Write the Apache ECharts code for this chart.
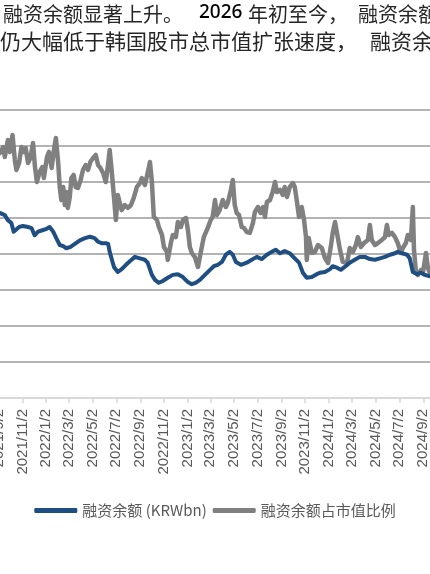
<!DOCTYPE html>
<html>
<head>
<meta charset="utf-8">
<script src="https://cdn.jsdelivr.net/npm/echarts@6/dist/echarts.min.js"></script>
<style>
  html, body { margin: 0; padding: 0; background: #fff; }
  #chart { width: 430px; height: 574px; }
</style>
</head>
<body>
<div id="chart"></div>
<script>
// x axis tick labels (every two months)
var tickLabels = ['2021/9/2', '2021/11/2', '2022/1/2', '2022/3/2', '2022/5/2', '2022/7/2', '2022/9/2',
  '2022/11/2', '2023/1/2', '2023/3/2', '2023/5/2', '2023/7/2', '2023/9/2', '2023/11/2',
  '2024/1/2', '2024/3/2', '2024/5/2', '2024/7/2', '2024/9/2', '2024/11/2'];

// 融资余额 (KRWbn)
var marginDates = ['2021-09-04', '2021-09-17', '2021-09-25', '2021-10-04', '2021-10-10', '2021-10-15', '2021-10-24',
  '2021-11-03', '2021-11-16', '2021-11-25', '2021-12-03', '2021-12-12', '2021-12-23', '2022-01-03', '2022-01-11',
  '2022-01-20', '2022-01-28', '2022-02-06', '2022-02-15', '2022-02-23', '2022-03-06', '2022-03-17', '2022-03-30',
  '2022-04-12', '2022-04-25', '2022-05-07', '2022-05-16', '2022-05-25', '2022-06-05', '2022-06-11', '2022-06-15',
  '2022-06-20', '2022-06-26', '2022-07-06', '2022-07-16', '2022-07-27', '2022-08-06', '2022-08-19', '2022-09-01',
  '2022-09-14', '2022-09-21', '2022-10-02', '2022-10-10', '2022-10-20', '2022-10-30', '2022-11-12', '2022-11-25',
  '2022-12-08', '2022-12-21', '2023-01-03', '2023-01-13', '2023-01-23', '2023-02-03', '2023-02-16', '2023-03-01',
  '2023-03-11', '2023-03-21', '2023-04-01', '2023-04-11', '2023-04-21', '2023-04-29', '2023-05-07', '2023-05-20',
  '2023-06-04', '2023-06-17', '2023-06-30', '2023-07-13', '2023-07-26', '2023-08-08', '2023-08-18', '2023-08-29',
  '2023-09-10', '2023-09-23', '2023-10-06', '2023-10-17', '2023-10-27', '2023-11-06', '2023-11-19', '2023-12-02',
  '2023-12-10', '2023-12-23', '2024-01-05', '2024-01-12', '2024-01-23', '2024-02-02', '2024-02-12', '2024-02-25',
  '2024-03-09', '2024-03-22', '2024-04-04', '2024-04-17', '2024-04-30', '2024-05-13', '2024-05-26', '2024-06-08',
  '2024-06-21', '2024-06-28', '2024-07-09', '2024-07-22', '2024-07-29', '2024-08-06', '2024-08-17', '2024-08-27',
  '2024-09-06', '2024-09-19'];
var marginValues = [25700, 25400, 24700, 24300, 23100, 22900, 23750,
  23900, 23750, 23600, 22600, 23100, 23300, 23500, 23750,
  23100, 22200, 21250, 21100, 20800, 21000, 21400, 21900,
  22200, 22400, 22200, 21700, 21500, 21500, 21400, 20300,
  20100, 18200, 17500, 17900, 18500, 19000, 19600, 19400,
  19200, 18800, 17100, 16400, 16000, 16250, 16700, 17100,
  17200, 16800, 16100, 15800, 16000, 16400, 17100, 17800,
  18300, 18500, 18900, 19900, 20300, 19900, 18900, 18500,
  18800, 19200, 19600, 19300, 19900, 20300, 20600, 20100,
  20400, 20100, 19400, 18800, 17400, 16700, 16800, 17200,
  17400, 17500, 17900, 18300, 18100, 17800, 18200, 18800,
  19200, 19600, 19600, 19300, 19200, 19400, 19600, 19900,
  20100, 20300, 20100, 19900, 19400, 17500, 17200, 17400,
  17100, 16900];

// 融资余额占市值比例 (%)
var ratioDates = ['2021-09-04', '2021-09-13', '2021-09-17', '2021-09-25', '2021-09-30', '2021-10-07', '2021-10-13',
  '2021-10-17', '2021-10-24', '2021-10-30', '2021-11-05', '2021-11-10', '2021-11-16', '2021-11-22', '2021-11-29',
  '2021-12-04', '2021-12-09', '2021-12-16', '2021-12-23', '2021-12-27', '2022-01-04', '2022-01-09', '2022-01-16',
  '2022-01-22', '2022-01-27', '2022-02-02', '2022-02-06', '2022-02-10', '2022-02-15', '2022-02-19', '2022-02-23',
  '2022-02-27', '2022-03-04', '2022-03-08', '2022-03-14', '2022-03-19', '2022-03-25', '2022-04-01', '2022-04-07',
  '2022-04-14', '2022-04-20', '2022-04-26', '2022-05-03', '2022-05-10', '2022-05-16', '2022-05-22', '2022-05-29',
  '2022-06-05', '2022-06-10', '2022-06-15', '2022-06-20', '2022-06-26', '2022-07-01', '2022-07-06', '2022-07-11',
  '2022-07-16', '2022-07-24', '2022-08-01', '2022-08-09', '2022-08-16', '2022-08-24', '2022-09-01', '2022-09-06',
  '2022-09-14', '2022-09-21', '2022-09-27', '2022-10-02', '2022-10-07', '2022-10-15', '2022-10-20', '2022-10-28',
  '2022-11-02', '2022-11-10', '2022-11-12', '2022-11-20', '2022-11-25', '2022-12-03', '2022-12-08', '2022-12-16',
  '2022-12-21', '2022-12-29', '2023-01-03', '2023-01-08', '2023-01-13', '2023-01-21', '2023-01-29', '2023-02-05',
  '2023-02-13', '2023-02-23', '2023-03-03', '2023-03-08', '2023-03-14', '2023-03-19', '2023-03-26', '2023-04-03',
  '2023-04-11', '2023-04-16', '2023-04-24', '2023-04-29', '2023-05-04', '2023-05-09', '2023-05-15', '2023-05-22',
  '2023-05-28', '2023-06-04', '2023-06-12', '2023-06-20', '2023-06-25', '2023-07-03', '2023-07-10', '2023-07-16',
  '2023-07-21', '2023-07-26', '2023-08-03', '2023-08-10', '2023-08-16', '2023-08-21', '2023-08-29', '2023-09-05',
  '2023-09-10', '2023-09-16', '2023-09-23', '2023-10-01', '2023-10-06', '2023-10-11', '2023-10-17', '2023-10-24',
  '2023-10-30', '2023-11-04', '2023-11-06', '2023-11-11', '2023-11-19', '2023-11-27', '2023-12-05', '2023-12-15',
  '2023-12-23', '2023-12-31', '2024-01-07', '2024-01-12', '2024-01-18', '2024-01-25', '2024-01-31', '2024-02-07',
  '2024-02-18', '2024-02-25', '2024-03-04', '2024-03-12', '2024-03-17', '2024-03-25', '2024-04-02', '2024-04-12',
  '2024-04-17', '2024-04-22', '2024-04-30', '2024-05-08', '2024-05-18', '2024-05-26', '2024-05-31', '2024-06-05',
  '2024-06-13', '2024-06-21', '2024-06-28', '2024-07-06', '2024-07-11', '2024-07-19', '2024-07-24', '2024-08-01',
  '2024-08-06', '2024-08-09', '2024-08-14', '2024-08-19', '2024-08-27', '2024-09-01', '2024-09-09', '2024-09-14',
  '2024-09-19'];
var ratioValues = [1.361, 1.394, 1.339, 1.433, 1.367, 1.461, 1.322,
  1.267, 1.306, 1.394, 1.367, 1.389, 1.306, 1.333, 1.417,
  1.283, 1.200, 1.256, 1.283, 1.222, 1.339, 1.367, 1.278,
  1.378, 1.444, 1.306, 1.172, 1.100, 1.172, 1.072, 1.144,
  1.056, 1.117, 1.222, 1.239, 1.172, 1.167, 1.211, 1.267,
  1.294, 1.267, 1.311, 1.333, 1.350, 1.294, 1.278, 1.250,
  1.200, 1.283, 1.378, 1.267, 1.117, 0.989, 1.128, 1.083,
  1.044, 1.072, 1.056, 1.072, 1.111, 1.172, 1.194, 1.222,
  1.183, 1.250, 1.311, 1.200, 1.006, 0.989, 0.950, 0.906,
  0.839, 0.811, 0.767, 0.861, 0.906, 0.894, 0.978, 0.950,
  0.989, 1.000, 0.933, 0.839, 0.806, 0.783, 0.728, 0.806,
  0.894, 0.944, 0.989, 1.006, 1.100, 1.017, 1.044, 1.100,
  1.061, 1.083, 1.156, 1.211, 1.072, 1.028, 1.017, 0.950,
  0.944, 0.922, 0.917, 0.972, 1.033, 1.061, 1.028, 1.061,
  1.006, 1.089, 1.100, 1.144, 1.200, 1.144, 1.156, 1.128,
  1.172, 1.117, 1.172, 1.194, 1.172, 1.100, 1.006, 1.061,
  0.989, 0.894, 0.767, 0.889, 0.806, 0.811, 0.850, 0.833,
  0.778, 0.750, 0.839, 0.917, 0.978, 0.894, 0.822, 0.756,
  0.750, 0.833, 0.811, 0.850, 0.894, 0.839, 0.861, 0.878,
  0.961, 0.878, 0.850, 0.861, 0.878, 0.894, 0.961, 0.906,
  0.917, 0.894, 0.861, 0.806, 0.833, 0.861, 0.906, 0.878,
  1.061, 0.822, 0.700, 0.683, 0.711, 0.694, 0.806, 0.722,
  0.694];

var seriesNames = ['融资余额 (KRWbn)', '融资余额占市值比例'];

function toTime(s) { return +echarts.time.parse(s); }

function zip(dates, values) {
  return dates.map(function (d, i) { return [toTime(d), values[i]]; });
}

var tickValues = tickLabels.map(toTime);

var chart = echarts.init(document.getElementById('chart'), null, { renderer: 'canvas' });

chart.setOption({
  animation: false,
  backgroundColor: '#fff',
  graphic: [
    { type: 'text', left: 3, top: 4, style: { text: '融资余额显著上升。', fontSize: 20, fill: '#262626', fontFamily: 'Noto Sans CJK SC' } },
    { type: 'text', left: 199, top: 3, style: { text: '2026', fontSize: 19, fill: '#000', fontFamily: 'Noto Sans', fontWeight: 500 } },
    { type: 'text', left: 248, top: 4, style: { text: '年初至今，', fontSize: 20, fill: '#262626', fontFamily: 'Noto Sans CJK SC' } },
    { type: 'text', left: 358, top: 4, style: { text: '融资余额', fontSize: 20, fill: '#262626', fontFamily: 'Noto Sans CJK SC' } },
    { type: 'text', left: 0, top: 31, style: { text: '仍大幅低于韩国股市总市值扩张速度，', fontSize: 21, fill: '#262626', fontFamily: 'Noto Sans CJK SC' } },
    { type: 'text', left: 370, top: 31, style: { text: '融资余', fontSize: 21, fill: '#262626', fontFamily: 'Noto Sans CJK SC' } }
  ],
  legend: {
    top: 498,
    left: 'center',
    itemWidth: 43,
    itemHeight: 5,
    itemGap: 6,
    icon: 'roundRect',
    textStyle: { fontSize: 15, color: '#595959', fontFamily: 'Noto Sans CJK SC' },
    data: seriesNames
  },
  grid: {
    left: -20,
    right: -20,
    top: 110,
    bottom: 176,
    outerBoundsMode: 'none'
  },
  xAxis: {
    type: 'value',
    min: toTime('2021-07-15'),
    max: toTime('2024-11-10'),
    axisLine: { show: true, lineStyle: { color: '#d9d9d9', width: 2 } },
    axisTick: { show: true, customValues: tickValues, length: 5, lineStyle: { color: '#d9d9d9', width: 1.5 } },
    axisLabel: {
      customValues: tickValues,
      rotate: 90,
      margin: 11,
      fontSize: 15,
      color: '#595959',
      fontFamily: 'Liberation Sans',
      formatter: function (v) {
        var i = tickValues.indexOf(v);
        return i >= 0 ? tickLabels[i] : '';
      }
    },
    splitLine: { show: false }
  },
  yAxis: [
    {
      type: 'value', min: 0, max: 40000, interval: 5000,
      axisLabel: { show: false }, axisLine: { show: false }, axisTick: { show: false },
      splitLine: { show: true, lineStyle: { color: '#b3b3b3', width: 2 } }
    },
    {
      type: 'value', min: 0, max: 1.6, interval: 0.2,
      axisLabel: { show: false }, axisLine: { show: false }, axisTick: { show: false },
      splitLine: { show: false }
    }
  ],
  series: [
    {
      name: seriesNames[0],
      type: 'line',
      yAxisIndex: 0,
      z: 3,
      showSymbol: false,
      symbol: 'none',
      color: '#1f4e82',
      lineStyle: { width: 4, color: '#1f4e82', join: 'round', cap: 'round' },
      data: zip(marginDates, marginValues)
    },
    {
      name: seriesNames[1],
      type: 'line',
      yAxisIndex: 1,
      z: 2,
      showSymbol: false,
      symbol: 'none',
      color: '#808080',
      lineStyle: { width: 4.5, color: '#808080', join: 'round', cap: 'round' },
      data: zip(ratioDates, ratioValues)
    }
  ]
});
</script>
</body>
</html>
